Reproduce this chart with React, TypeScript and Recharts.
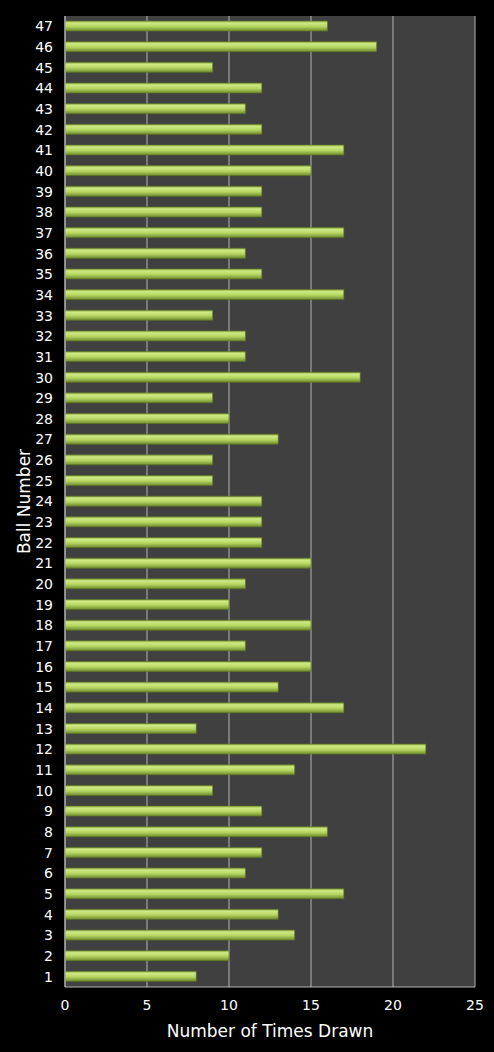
import { BarChart, Bar, XAxis, YAxis, CartesianGrid } from 'recharts';

const balls = [
    '1', '2', '3', '4', '5', '6', '7', '8', '9', '10',
    '11', '12', '13', '14', '15', '16', '17', '18', '19', '20',
    '21', '22', '23', '24', '25', '26', '27', '28', '29', '30',
    '31', '32', '33', '34', '35', '36', '37', '38', '39', '40',
    '41', '42', '43', '44', '45', '46', '47',
];

const timesDrawn = [
    8, 10, 14, 13, 17, 11, 12, 16, 12, 9,
    14, 22, 8, 17, 13, 15, 11, 15, 10, 11,
    15, 12, 12, 12, 9, 9, 13, 10, 9, 18,
    11, 11, 9, 17, 12, 11, 17, 12, 12, 15,
    17, 12, 11, 12, 9, 19, 16,
];

const xTicks = [0, 5, 10, 15, 20, 25];

const data = balls.map((ball, i) => ({ ball, drawn: timesDrawn[i] }));

const font = '"DejaVu Sans", Verdana, sans-serif';

export default function App() {
    return (
        <div style={{ position: 'absolute', left: 0, top: 0, width: 494, height: 1052, background: '#000' }}>
            <BarChart
                width={494}
                height={1052}
                data={data}
                layout="vertical"
                margin={{ top: 16, right: 19, left: 0, bottom: 0 }}
                barSize={10}
            >
                <defs>
                    <linearGradient id="barGreen" x1="0" y1="0" x2="0" y2="1">
                        <stop offset="0%" stopColor="#8fae42" />
                        <stop offset="20%" stopColor="#cfe985" />
                        <stop offset="55%" stopColor="#b6d662" />
                        <stop offset="100%" stopColor="#6f8b2d" />
                    </linearGradient>
                </defs>
                <CartesianGrid horizontal={false} stroke="#b4b4b4" fill="#404040" />
                <XAxis
                    type="number"
                    domain={[0, 25]}
                    ticks={xTicks}
                    height={65}
                    stroke="#b4b4b4"
                    tickLine={false}
                    tickSize={0}
                    tickMargin={13}
                    tick={{ fill: '#fff', fontSize: 14, fontFamily: font }}
                    label={{
                        value: 'Number of Times Drawn',
                        position: 'insideBottom',
                        offset: 15,
                        fill: '#fff',
                        fontSize: 17,
                        fontFamily: font,
                    }}
                />
                <YAxis
                    type="category"
                    dataKey="ball"
                    reversed
                    interval={0}
                    width={65}
                    stroke="#b4b4b4"
                    tickLine={false}
                    tickSize={0}
                    tickMargin={12}
                    tick={{ fill: '#fff', fontSize: 14, fontFamily: font }}
                    label={{
                        value: 'Ball Number',
                        angle: -90,
                        position: 'insideLeft',
                        offset: 24,
                        fill: '#fff',
                        fontSize: 17,
                        fontFamily: font,
                        style: { textAnchor: 'middle' },
                    }}
                />
                <Bar
                    dataKey="drawn"
                    fill="url(#barGreen)"
                    stroke="#5f7a22"
                    strokeWidth={0.6}
                    isAnimationActive={false}
                />
            </BarChart>
        </div>
    );
}
